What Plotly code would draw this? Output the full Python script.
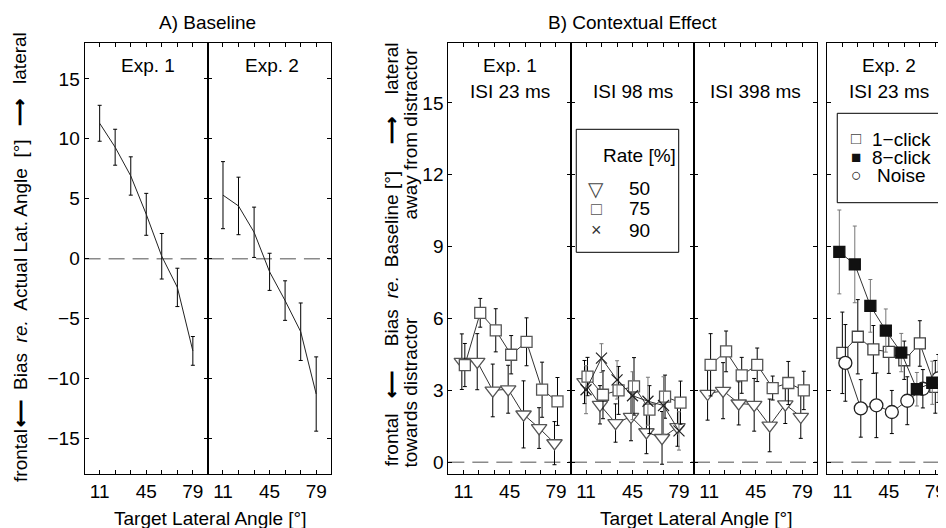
import plotly.graph_objects as go

# ---------------- data ----------------
angles = [11, 22.3, 33.7, 45, 56.3, 67.7, 79]
x_ticktext = ["11", "", "", "45", "", "", "79"]

# A) Baseline
base_exp1 = [11.3, 9.3, 6.9, 3.7, 0.2, -2.4, -7.7]
base_exp1_err = [1.5, 1.5, 1.6, 1.75, 1.9, 1.6, 1.2]
base_exp2 = [5.3, 4.4, 2.2, -1.1, -3.5, -6.1, -11.3]
base_exp2_err = [2.8, 2.4, 2.1, 1.55, 1.65, 2.4, 3.1]

# B) Contextual effect, Exp. 1
isi23_r50 = [4.2, 4.2, 3.0, 3.05, 2.0, 1.43, 0.8]
isi23_r50_err = [1.16, 1.17, 1.1, 1.0, 1.4, 0.85, 0.9]
isi23_r75 = [4.06, 6.24, 5.51, 4.49, 5.03, 3.03, 2.54]
isi23_r75_err = [0.9, 0.6, 0.9, 0.8, 1.0, 1.15, 1.0]

isi98_r50 = [3.35, 2.4, 1.64, 1.9, 1.26, 1.02, 1.47]
isi98_r50_err = [0.9, 0.8, 0.8, 1.0, 0.9, 1.1, 0.8]
isi98_r75 = [3.58, 2.82, 3.0, 3.17, 2.2, 2.74, 2.49]
isi98_r75_err = [0.8, 1.0, 1.0, 1.2, 1.0, 0.9, 0.9]
isi98_r90 = [3.03, 4.35, 3.44, 2.78, 2.55, 2.37, 1.31]
isi98_r90_err = [1.0, 0.6, 0.8, 1.0, 1.0, 1.2, 0.8]

isi398_r50 = [2.86, 2.99, 2.46, 2.4, 1.54, 2.42, 1.9]
isi398_r50_err = [1.1, 1.17, 0.9, 1.1, 1.1, 0.8, 0.9]
isi398_r75 = [4.07, 4.63, 3.63, 4.07, 3.1, 3.31, 3.0]
isi398_r75_err = [1.3, 0.85, 0.75, 0.7, 0.5, 0.9, 0.8]

# B) Contextual effect, Exp. 2
exp2_click1 = [4.57, 5.24, 4.71, 4.61, 4.26, 4.96, 3.15]
exp2_click1_err = [1.7, 1.55, 1.0, 0.9, 0.8, 0.95, 1.1]
exp2_click8 = [8.78, 8.26, 6.53, 5.5, 4.58, 3.05, 3.32]
exp2_click8_err = [1.75, 1.6, 1.1, 0.9, 0.8, 0.7, 0.9]
exp2_noise = [4.15, 2.25, 2.38, 2.1, 2.57, 3.07, 3.5]
exp2_noise_err = [1.6, 1.2, 1.35, 0.9, 1.0, 0.8, 1.0]

a_yticks = [-15, -10, -5, 0, 5, 10, 15]
b_yticks = [0, 3, 6, 9, 12, 15]

# ---------------- layout helpers ----------------
# The page body has an 8px default margin, so the figure is placed at (8, 8)
# inside the 946x528 window; positions below are given in window pixels.
OFF = 8
W, H = 946 - OFF, 528 - OFF
FONT = "Liberation Sans, Arial, Helvetica, sans-serif"
FS = 19


def fx(p):
    return (p - OFF) / W


def fy(p):
    return 1 - (p - OFF) / H


Y_DOM = [fy(474.3), fy(43)]
PANEL_W = 123.7
panels = [
    # x0, x1 (window px), xrange, yrange, yticks, show y labels, mirror y
    (85, 209, [0, 90], [-18, 18], a_yticks, True, "allticks"),
    (209, 333, [0, 90], [-18, 18], a_yticks, False, "allticks"),
    (450.7, 574, [0, 90], [-0.5, 17.5], b_yticks, True, "allticks"),
    (574, 697.7, [0, 90], [-0.5, 17.5], b_yticks, False, "allticks"),
    (697.7, 821.7, [0, 90], [-0.5, 17.5], b_yticks, False, "allticks"),
    (831.7, 946, [0, 90 * (946 - 831.7) / PANEL_W], [-0.5, 17.5], b_yticks, False, False),
]

fig = go.Figure()
layout = dict(
    width=W, height=H,
    margin=dict(l=0, r=0, t=0, b=0),
    paper_bgcolor="white", plot_bgcolor="white",
    showlegend=False,
    font=dict(family=FONT, size=FS, color="black"),
)
shapes = []
for i, (x0, x1, xr, yr, yt, showy, ymir) in enumerate(panels):
    n = "" if i == 0 else str(i + 1)
    layout["xaxis" + n] = dict(
        domain=[fx(x0), min(fx(x1), 1.0)], range=xr, anchor="y" + n,
        tickvals=angles, ticktext=x_ticktext, ticks="inside", ticklen=4,
        tickcolor="black", tickwidth=1, showline=True, linecolor="black",
        linewidth=1.1, mirror="allticks", showgrid=False, zeroline=False,
        ticklabeloverflow="allow",
        tickfont=dict(size=FS, family=FONT, color="black"),
    )
    layout["yaxis" + n] = dict(
        domain=Y_DOM, range=yr, anchor="x" + n,
        tickvals=yt, ticks="inside", ticklen=4, tickcolor="black", tickwidth=1,
        showline=True, linecolor="black", linewidth=1.1, mirror=ymir,
        showgrid=False, zeroline=False, showticklabels=showy,
        tickfont=dict(size=FS, family=FONT, color="black"),
    )
    shapes.append(dict(
        type="line", xref="x" + n + " domain", x0=0, x1=1, yref="y" + n,
        y0=0, y1=0, line=dict(color="#8a8a8a", width=1.5, dash="16px,8px"),
        layer="below",
    ))


def ax(i):
    n = "" if i == 0 else str(i + 1)
    return "x" + n, "y" + n


def add(i, y, err, symbol, size, fill, edge, dx=0.0, ecolor="black",
        lw=1.0, mlw=1.3, lcolor="#333333"):
    xa, ya = ax(i)
    fig.add_trace(go.Scatter(
        x=[a + dx for a in angles], y=y, xaxis=xa, yaxis=ya,
        mode="lines+markers" if symbol else "lines",
        line=dict(color=lcolor, width=lw),
        marker=dict(symbol=symbol or "circle", size=size, color=fill,
                    line=dict(color=edge, width=mlw)),
        error_y=dict(type="data", array=err, color=ecolor, thickness=1, width=2),
        cliponaxis=True,
    ))


# A) Baseline: lines only with error bars
add(0, base_exp1, base_exp1_err, None, 0, "black", "black", lcolor="#222")
add(1, base_exp2, base_exp2_err, None, 0, "black", "black", lcolor="#222")

TRI, SQ, CROSS = "triangle-down", "square", "x-thin-open"
D = 1.1
# Exp. 1 ISI 23
add(2, isi23_r50, isi23_r50_err, TRI, 13.5, "white", "#555555", dx=-D)
add(2, isi23_r75, isi23_r75_err, SQ, 11, "white", "#555555", dx=D)
# ISI 98
add(3, isi98_r50, isi98_r50_err, TRI, 13.5, "white", "#555555", dx=-D)
add(3, isi98_r75, isi98_r75_err, SQ, 11, "white", "#555555", dx=D)
add(3, isi98_r90, isi98_r90_err, CROSS, 11, "#222222", "#222222",
    ecolor="#777777", mlw=1.2)
# ISI 398
add(4, isi398_r50, isi398_r50_err, TRI, 13.5, "white", "#555555", dx=-D)
add(4, isi398_r75, isi398_r75_err, SQ, 11, "white", "#555555", dx=D)
# Exp. 2 ISI 23
D2 = 2.2
add(5, exp2_click1, exp2_click1_err, SQ, 11, "white", "#444444")
add(5, exp2_noise, exp2_noise_err, "circle", 13, "white", "#222222", dx=D2)
add(5, exp2_click8, exp2_click8_err, SQ, 11, "#111111", "#111111", dx=-D2,
    ecolor="#777777")

# ---------------- annotations ----------------
ann = []


def txt(s, x, y, size=FS, angle=0, xanchor="center", color="black"):
    ann.append(dict(text=s, x=fx(x), y=fy(y), xref="paper", yref="paper",
                    showarrow=False, xanchor=xanchor, yanchor="middle",
                    textangle=angle, borderpad=0,
                    font=dict(size=size, family=FONT, color=color)))


txt("A) Baseline", 209, 22)
txt("B) Contextual Effect", 636, 22)
txt("Exp. 1", 149, 65)
txt("Exp. 2", 273, 65)
txt("Exp. 1", 512.7, 65)
txt("ISI 23 ms", 512.7, 91)
txt("ISI 98 ms", 636, 91)
txt("ISI 398 ms", 759.5, 91)
txt("Exp. 2", 893.5, 65)
txt("ISI 23 ms", 893.5, 91)
txt("Target Lateral Angle [°]", 210.7, 518)
txt("Target Lateral Angle [°]", 700, 518)

# y title panel A
txt("lateral", 20, 58, angle=-90)
txt("<b>⟶</b>", 20, 112, angle=-90)
txt("Bias  <i>re.</i>  Actual Lat. Angle  [°]", 20, 264, angle=-90)
txt("<b>⟵</b>", 20, 413, angle=-90)
txt("frontal", 20, 455, angle=-90)

# y title panel B
txt("lateral", 393.3, 68, angle=-90)
txt("<b>⟶</b>", 393.3, 131, angle=-90)
txt("Baseline [°]", 393.3, 219, angle=-90)
txt("<i>re.</i>", 393.3, 287, angle=-90)
txt("Bias", 393.3, 328, angle=-90)
txt("<b>⟵</b>", 393.3, 385, angle=-90)
txt("frontal", 393.3, 440, angle=-90)
txt("away from distractor", 411.7, 134, angle=-90)
txt("towards distractor", 411.7, 392, angle=-90)

# legend: Rate [%]
shapes.append(dict(type="rect", xref="paper", yref="paper",
                   x0=fx(579.3), x1=fx(682.3), y0=fy(252.3), y1=fy(129.3),
                   line=dict(color="black", width=1), fillcolor="white"))
txt("Rate [%]", 643, 155)
txt("▽", 599.3, 189, size=20, color="#444")
txt("□", 599.3, 209, size=18, color="#555")
txt("×", 599.3, 230, size=18, color="#333")
txt("50", 643, 188)
txt("75", 643, 209)
txt("90", 643, 230)

# legend: Exp. 2
shapes.append(dict(type="rect", xref="paper", yref="paper",
                   x0=fx(841.7), x1=fx(945), y0=fy(202.7), y1=fy(113.3),
                   line=dict(color="black", width=1), fillcolor="white"))
txt("□", 860.7, 138.5, size=17, color="#444")
txt("■", 860.7, 157, size=17, color="#111")
txt("○", 860.7, 175.5, size=18, color="#222")
txt("1−click", 876, 139, xanchor="left")
txt("8−click", 876, 157.5, xanchor="left")
txt("Noise", 881, 175.6, xanchor="left")

layout["annotations"] = ann
layout["shapes"] = shapes
fig.update_layout(**layout)
fig.write_html("out.html")
